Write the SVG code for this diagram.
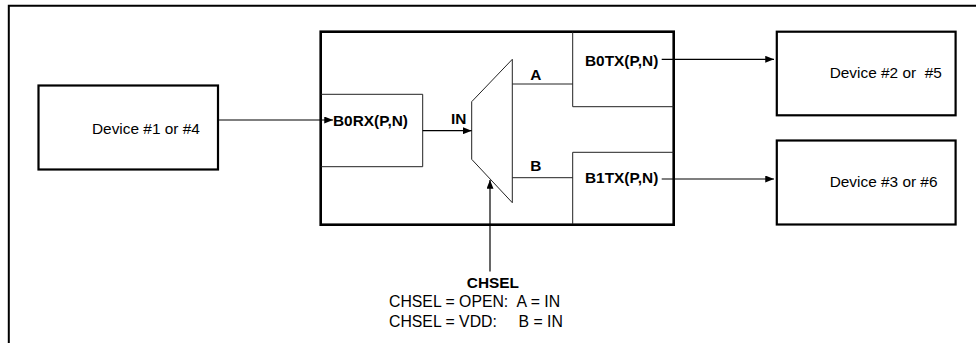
<svg xmlns="http://www.w3.org/2000/svg" width="976" height="343" viewBox="0 0 976 343">
  <defs>
    <marker id="arr" viewBox="0 0 10 8" refX="10" refY="4" markerWidth="9" markerHeight="7" markerUnits="userSpaceOnUse" orient="auto">
      <path d="M0,0 L10,4 L0,8 Z" fill="#000"/>
    </marker>
    <style>
      .t { font-family: "Liberation Sans", Arial, sans-serif; font-size: 15.4px; fill: #000; }
      .b { font-weight: bold; }
      .s { font-size: 15.8px; }
      .dev { fill: #fff; stroke: #000; stroke-width: 2.2; }
      .main { fill: #fff; stroke: #000; stroke-width: 2.6; }
      .inner { fill: none; stroke: #222; stroke-width: 1; }
      .conn { fill: none; stroke: #000; stroke-width: 1.2; }
    </style>
  </defs>
  <rect x="0" y="0" width="976" height="343" fill="#fff"/>
  <path d="M8.8 343 V5.8 H976" fill="none" stroke="#000" stroke-width="2"/>

  <g id="device1">
    <rect class="dev" x="38.5" y="85.5" width="179.5" height="84"/>
    <text class="t" x="92" y="134">Device #1 or #4</text>
  </g>
  <g id="device2">
    <rect class="dev" x="776.8" y="31.7" width="178.8" height="83.6"/>
    <text class="t" x="829.7" y="77.5" xml:space="preserve">Device #2 or  #5</text>
  </g>
  <g id="device3">
    <rect class="dev" x="776.8" y="140.5" width="178.8" height="84"/>
    <text class="t" x="829.7" y="186.7">Device #3 or #6</text>
  </g>

  <g id="main">
    <rect class="main" x="320.7" y="31.7" width="353" height="193"/>
  </g>
  <g id="b0rx">
    <path class="inner" d="M320.7 94.3 H422.7 V166.7 H320.7"/>
    <text class="t b" x="333" y="126">B0RX(P,N)</text>
  </g>
  <g id="b0tx">
    <path class="inner" d="M572.7 31.7 V106.7 H673.7"/>
    <text class="t b" x="585" y="65.5">B0TX(P,N)</text>
  </g>
  <g id="b1tx">
    <path class="inner" d="M572.7 224 V152.3 H673.7"/>
    <text class="t b" x="585" y="183">B1TX(P,N)</text>
  </g>
  <g id="mux">
    <path class="inner" d="M471.7 101.7 L512.3 59.3 V202.7 L471.7 159.3 Z"/>
  </g>

  <g id="connectors">
    <line class="conn" x1="218" y1="120" x2="333" y2="120" marker-end="url(#arr)"/>
    <line class="conn" x1="422.7" y1="130.7" x2="471.7" y2="130.7" marker-end="url(#arr)"/>
    <line class="inner" x1="512.3" y1="84" x2="572.7" y2="84"/>
    <line class="inner" x1="512.3" y1="177.7" x2="572.7" y2="177.7"/>
    <line class="conn" x1="661.7" y1="59.3" x2="774" y2="59.3" marker-end="url(#arr)"/>
    <line class="conn" x1="661.7" y1="179" x2="774" y2="179" marker-end="url(#arr)"/>
    <line class="conn" x1="490" y1="271.5" x2="490" y2="180" marker-end="url(#arr)"/>
  </g>

  <g id="labels">
    <text class="t b" x="451" y="124">IN</text>
    <text class="t b" x="530.3" y="80">A</text>
    <text class="t b" x="530.3" y="170.5">B</text>
  </g>

  <g id="chsel">
    <text class="t b" x="466.8" y="287.5">CHSEL</text>
    <text class="t s" x="389" y="307">CHSEL = OPEN:</text>
    <text class="t s" x="516.6" y="307">A = IN</text>
    <text class="t s" x="389" y="327">CHSEL = VDD:</text>
    <text class="t s" x="518.5" y="327">B = IN</text>
  </g>
</svg>
